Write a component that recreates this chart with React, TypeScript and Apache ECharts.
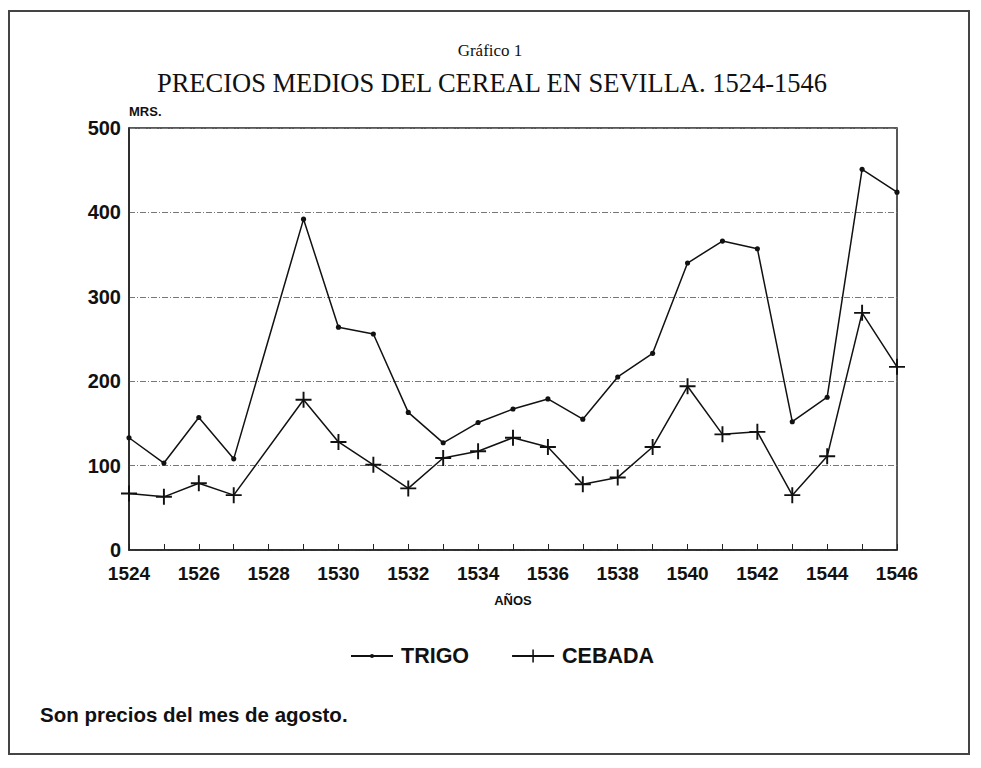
import React, { useEffect, useRef } from "react";
import * as echarts from "echarts";

const years = [1524, 1525, 1526, 1527, 1529, 1530, 1531, 1532, 1533, 1534, 1535, 1536, 1537, 1538, 1539, 1540, 1541, 1542, 1543, 1544, 1545, 1546];
const trigo = [133, 103, 157, 108, 392, 264, 256, 163, 127, 151, 167, 179, 155, 205, 233, 340, 366, 357, 152, 181, 451, 424];
const cebada = [67, 63, 79, 65, 178, 128, 101, 73, 109, 117, 133, 122, 78, 86, 122, 194, 137, 140, 65, 111, 281, 217];
const yTicks = [0, 100, 200, 300, 400, 500];
const seriesNames = ["TRIGO", "CEBADA"];

const PLUS = "path://M4.4,0h1.2v4.4h4.4v1.2h-4.4v4.4h-1.2v-4.4h-4.4v-1.2h4.4z";
const DOT = "path://M0,0M10,10M3.4,5a1.6,1.6 0 1,0 3.2,0a1.6,1.6 0 1,0 -3.2,0z";

export default function App() {
  const ref = useRef<HTMLDivElement>(null);
  useEffect(() => {
    if (!ref.current) return;
    const chart = echarts.init(ref.current, null, { renderer: "svg" });
    const sans = "'Liberation Sans', Arial, sans-serif";
    const serif = "'Liberation Serif', 'DejaVu Serif', serif";
    chart.setOption({
      animation: false,
      backgroundColor: "#ffffff",
      grid: {
        left: 129,
        right: 84,
        top: 128,
        bottom: 218,
        show: true,
        borderColor: "#222",
        borderWidth: 1.5,
      },
      title: [
        {
          text: "Gráfico 1",
          left: 485,
          textAlign: "center",
          top: 37,
          textStyle: { fontFamily: serif, fontSize: 17, fontWeight: "normal", color: "#111" },
        },
        {
          text: "PRECIOS MEDIOS DEL CEREAL EN SEVILLA. 1524-1546",
          left: 487,
          textAlign: "center",
          top: 64,
          textStyle: { fontFamily: serif, fontSize: 26.5, fontWeight: "normal", color: "#111" },
        },
      ],
      legend: {
        top: 645,
        left: 350,
        padding: 0,
        itemGap: 42,
        itemWidth: 42,
        itemHeight: 16,
        textStyle: { fontFamily: sans, fontSize: 21.5, fontWeight: "bold", color: "#111", padding: [0, 0, 0, 3] },
        data: seriesNames,
      },
      xAxis: {
        type: "value",
        min: 1524,
        max: 1546,
        interval: 2,
        name: "AÑOS",
        nameLocation: "middle",
        nameGap: 44,
        nameTextStyle: { fontFamily: sans, fontSize: 13, fontWeight: "bold", color: "#111" },
        axisLine: { show: true, lineStyle: { color: "#222", width: 1.5 } },
        axisTick: { show: true, inside: true, length: 6, lineStyle: { color: "#222" } },
        minorTick: { show: true, splitNumber: 2, length: 6, lineStyle: { color: "#222" } },
        splitLine: { show: false },
        axisLabel: {
          fontFamily: sans,
          fontSize: 19,
          fontWeight: "bold",
          color: "#111",
          margin: 14,
          formatter: (v: number) => String(v),
        },
      },
      yAxis: {
        type: "value",
        min: 0,
        max: 500,
        interval: 100,
        name: "MRS.",
        nameLocation: "end",
        nameGap: 10,
        nameTextStyle: { fontFamily: sans, fontSize: 13, fontWeight: "bold", color: "#111", align: "left", padding: [0, 0, 0, 0] },
        axisLine: { show: true, lineStyle: { color: "#222", width: 1.5 } },
        axisTick: { show: false },
        splitLine: { show: true, lineStyle: { color: "#777", width: 1, type: [6, 2, 1, 2] } },
        axisLabel: {
          fontFamily: sans,
          fontSize: 20,
          fontWeight: "bold",
          color: "#111",
          margin: 8,
          formatter: (v: number) => (yTicks.includes(v) ? String(v) : ""),
        },
      },
      series: [
        {
          name: seriesNames[0],
          type: "line",
          data: years.map((y, i) => [y, trigo[i]]),
          symbol: DOT,
          symbolSize: 16,
          lineStyle: { color: "#111", width: 1.5 },
          itemStyle: { color: "#111" },
        },
        {
          name: seriesNames[1],
          type: "line",
          data: years.map((y, i) => [y, cebada[i]]),
          symbol: PLUS,
          symbolSize: 16,
          lineStyle: { color: "#111", width: 1.5 },
          itemStyle: { color: "#111" },
        },
      ],
      graphic: [
        {
          type: "rect",
          shape: { x: 9, y: 11, width: 960, height: 743 },
          style: { fill: "none", stroke: "#444", lineWidth: 2 },
          silent: true,
        },
        {
          type: "text",
          left: 40,
          top: 704,
          style: {
            text: "Son precios del mes de agosto.",
            fontFamily: sans,
            fontSize: 20.5,
            fontWeight: "bold",
            fill: "#111",
          },
        },
      ],
    });
    return () => chart.dispose();
  }, []);
  return (
    <div
      ref={ref}
      style={{ position: "fixed", left: 0, top: 0, width: 981, height: 768, background: "#fff" }}
    />
  );
}
